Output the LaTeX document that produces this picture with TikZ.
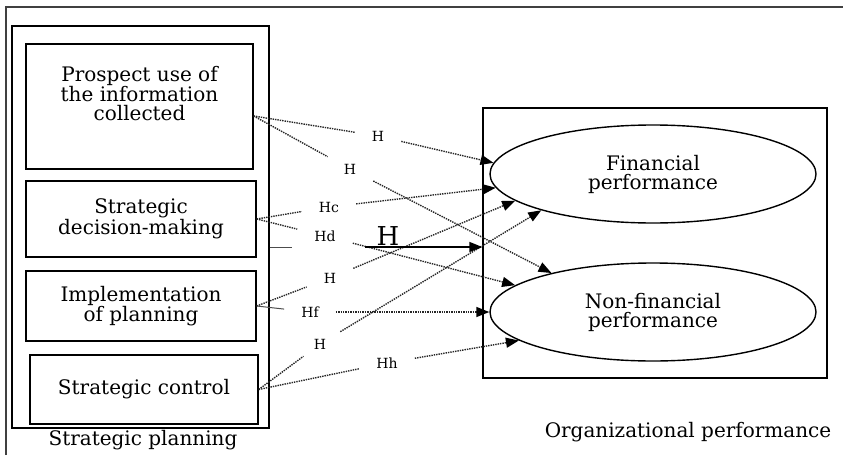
\documentclass[tikz,border=0pt]{standalone}
\usepackage{fontspec}
\setmainfont{DejaVu Serif}
\usetikzlibrary{arrows.meta,shapes.geometric}

\begin{document}
\begin{tikzpicture}[x=1pt,y=-1pt,
  box/.style={draw,line width=1.4pt,align=center,inner sep=0pt,font=\fontsize{20}{19}\selectfont},
  oval/.style={draw,ellipse,line width=1.4pt,align=center,inner sep=0pt,minimum width=326,minimum height=98,font=\fontsize{20}{19}\selectfont},
  title/.style={font=\fontsize{20}{19}\selectfont},
  hyp/.style={densely dotted,line width=1.4pt,black!85},
  plain/.style={line width=1pt,black!70},
  tip/.style={-{Triangle[length=13pt,width=10pt,color=black]}},
  hlab/.style={font=\fontsize{14}{16}\selectfont,inner xsep=17pt,inner ysep=7pt}]
\useasboundingbox (0,0) rectangle (843,455);

\draw[line width=2.4pt,black!75] (6,455)--(6,7)--(843,7);

% strategic planning
\node (sp) at (140.5,227) [box,minimum width=257,minimum height=402] {};
\node (pros) at (139.5,106.5) [box,minimum width=227,minimum height=125] {Prospect use of\\the information\\collected\\[7pt]};
\node (dec) at (141,219) [box,minimum width=230,minimum height=76] {Strategic\\decision-making};
\node (impl) at (141,306) [box,minimum width=230,minimum height=70] {Implementation\\of planning};
\node (ctrl) at (144,389.5) [box,minimum width=228,minimum height=69] {Strategic control};
\node (sptitle) at (143,440) [title] {Strategic planning};

% organizational performance
\node (op) at (655,243) [box,minimum width=344,minimum height=270] {};
\node (fin) at (653,174) [oval] {Financial\\performance};
\node (nfin) at (653,312) [oval] {Non-financial\\performance};
\node (optitle) at (688,432) [title] {Organizational performance};

% hypotheses
\node (ha) at (378,136) [hlab] {H};
\node (hb) at (350,169) [hlab] {H};
\node (hc) at (329,207) [hlab] {Hc};
\node (hd) at (325,236) [hlab] {Hd};
\node (he) at (330,278) [hlab] {H};
\node (hf) at (310,312) [hlab] {Hf};
\node (hg) at (320,344) [hlab] {H};
\node (hh) at (387,363) [hlab] {Hh};
\node (hbig) at (388,236) [font=\fontsize{26}{28}\selectfont] {H};

\draw[hyp] ([yshift=-9.5pt]pros.east) -- (ha);
\draw[hyp,tip] (ha) -- (fin.176);
\draw[hyp] ([yshift=-9.5pt]pros.east) -- (hb);
\draw[hyp,tip] (hb) -- (nfin.159);

\draw[hyp] (dec.east) -- (hc);
\draw[hyp,tip] (hc) -- (fin.185);
\draw[hyp] (dec.east) -- (hd);
\draw[hyp,tip] (hd) -- (nfin.169);

\draw[hyp] (impl.east) -- (he);
\draw[hyp,tip] (he) -- (fin.191);
\draw[plain] (impl.east) -- (hf);
\draw[hyp,tip] (hf) -- (nfin.west);

\draw[hyp] (ctrl.east) -- (hg);
\draw[hyp,tip] (hg) -- (fin.198);
\draw[hyp] (ctrl.east) -- (hh);
\draw[hyp,tip] (hh) -- (nfin.192);

\coordinate (hgap1) at (292,247);
\coordinate (hgap2) at (365,247);
\draw[plain] (sp.east |- hgap1) -- (hgap1);
\draw[line width=1.4pt,tip] (hgap2) -- (op.west |- hgap2);

\end{tikzpicture}
\end{document}
